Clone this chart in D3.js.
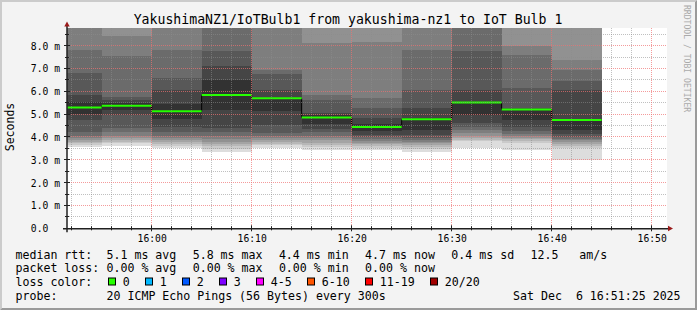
<!DOCTYPE html>
<html><head><meta charset="utf-8">
<script src="https://cdn.jsdelivr.net/npm/d3@7/dist/d3.min.js"></script>
<style>
html,body{margin:0;padding:0;background:#f3f3f3;}
svg{display:block;}
text{font-family:"DejaVu Sans Mono",monospace;}
</style></head><body>
<svg id="c" width="697" height="310"></svg>
<script>
// ---------------- data ----------------
const title = "YakushimaNZ1/IoTBulb1 from yakushima-nz1 to IoT Bulb 1";
const yAxisTitle = "Seconds";
const sideText = "RRDTOOL / TOBI OETIKER";
const windowStart = "2025-12-06T15:51:32Z";
const windowMinutes = 60;
const stepMinutes = 5;
const stepStarts = ["15:50","15:55","16:00","16:05","16:10","16:15","16:20","16:25","16:30","16:35","16:40"];
const medians = [5.29, 5.37, 5.12, 5.84, 5.69, 4.85, 4.44, 4.77, 5.51, 5.20, 4.74];
const lossPct = [0,0,0,0,0,0,0,0,0,0,0];
// 20 sorted ping rtts (ms) per 5-minute step
const pings = [
  [3.58,3.66,3.73,3.80,3.88,3.95,4.05,4.20,4.75,5.00,5.55,5.82,6.80,7.82,9.2,9.8,10.5,11.5,13.0,16.0],
  [3.62,3.73,3.80,3.87,3.95,4.05,4.20,4.40,4.98,5.18,5.48,5.60,5.77,7.53,8.43,9.0,9.6,10.4,11.5,14.0],
  [3.51,3.62,3.70,3.78,3.86,3.95,4.05,4.20,4.45,4.77,5.45,6.05,6.58,7.82,9.1,9.6,10.3,11.2,12.5,15.0],
  [3.32,3.48,3.60,3.70,3.80,3.90,4.05,4.23,4.40,5.20,6.50,7.09,7.75,9.0,9.5,10.2,11.0,12.0,13.5,16.0],
  [3.50,3.63,3.71,3.79,3.87,3.95,4.05,4.18,4.54,5.12,5.70,6.06,6.76,6.95,9.1,9.6,10.3,11.2,12.5,15.0],
  [3.43,3.55,3.65,3.75,3.85,3.95,4.05,4.20,4.35,4.55,4.95,5.06,5.63,5.85,8.10,9.0,9.7,10.5,12.0,15.0],
  [3.43,3.52,3.60,3.67,3.75,3.82,3.90,4.00,4.10,4.24,4.57,4.84,5.26,5.70,8.17,9.0,9.8,10.8,12.0,15.0],
  [3.36,3.47,3.56,3.64,3.72,3.78,3.85,3.95,4.10,4.30,4.82,5.26,6.07,7.82,9.0,9.6,10.3,11.2,12.5,15.0],
  [3.52,3.82,3.88,3.95,4.05,4.18,4.30,4.42,4.60,4.95,5.55,6.07,7.78,9.0,9.6,10.3,11.2,12.5,14.0,17.0],
  [3.45,3.74,3.82,3.90,3.97,4.05,4.15,4.25,4.42,4.75,5.20,5.28,6.14,7.60,7.96,9.0,9.7,10.5,12.0,15.0],
  [2.99,3.50,3.62,3.70,3.78,3.85,3.92,4.00,4.12,4.30,4.78,6.07,6.43,6.95,7.39,9.0,9.7,10.5,12.0,15.0]
];
const yMax = 8.77;
const yTicks = [0,1,2,3,4,5,6,7,8];
const yUnit = "m";
const xLabelTimes = ["16:00","16:10","16:20","16:30","16:40","16:50"];
const rttLabel = "median rtt:";
const rttItems = ["5.1 ms avg","5.8 ms max","4.4 ms min","4.7 ms now","0.4 ms sd","12.5   am/s"];
const lossLabel = "packet loss:";
const lossItems = ["0.00 % avg","0.00 % max","0.00 % min","0.00 % now"];
const colorLabel = "loss color:";
const lossLabels = ["0","1","2","3","4-5","6-10","11-19","20/20"];
const lossColors = ["#26ff00","#00b8ff","#0059ff","#7e00ff","#ff00ff","#ff5500","#ff0000","#a10000"];
const probeLabel = "probe:";
const probeText = "20 ICMP Echo Pings (56 Bytes) every 300s";
const dateText = "Sat Dec  6 16:51:25 2025";

// ---------------- layout ----------------
const W = 697, H = 310;
const L = 67, R = 667, T = 28, B = 228.3;
const svg = d3.select("#c");
const day = "2025-12-06T";
const toDate = s => new Date(day + s + ":00Z");
const t0 = new Date(windowStart);
const t1 = new Date(+t0 + windowMinutes * 60000);

const x = d3.scaleUtc().domain([t0, t1]).range([L, R]);
const y = d3.scaleLinear().domain([0, yMax]).range([B, T]);

// background + 3D frame
svg.append("rect").attr("width", W).attr("height", H).attr("fill", "#f3f3f3");
svg.append("polygon").attr("points", `0,0 ${W},0 ${W-2},2 2,2 2,${H-2} 0,${H}`).attr("fill", "#cbcbcb");
svg.append("polygon").attr("points", `${W},0 ${W},${H} 0,${H} 2,${H-2} ${W-2},${H-2} ${W-2},2`).attr("fill", "#9a9a9a");

// canvas
svg.append("rect").attr("x", L).attr("y", T).attr("width", R - L).attr("height", B - T).attr("fill", "#ffffff");
svg.append("clipPath").attr("id", "clip").append("rect")
  .attr("x", L).attr("y", T).attr("width", R - L).attr("height", B - T);

// smoke: nested bands, smokeping smokecol shading
const plot = svg.append("g").attr("clip-path", "url(#clip)");
const nP = 20, half = nP / 2;
const bandColor = ibot => { const c = Math.floor(190 / half * (half - ibot)) + 50; return d3.rgb(c, c, c).toString(); };
stepStarts.forEach((s, i) => {
  const ts = toDate(s), te = new Date(+ts + stepMinutes * 60000);
  const p = pings[i];
  for (let ibot = 1, itop = nP; itop > ibot; ibot++, itop--) {
    const lo = p[ibot - 1], hi = p[itop - 1];
    plot.append("rect")
      .attr("x", x(ts)).attr("width", x(te) - x(ts))
      .attr("y", y(hi)).attr("height", y(lo) - y(hi))
      .attr("fill", bandColor(ibot))
      .attr("shape-rendering", "crispEdges");
  }
});

// grid
const grid = svg.append("g");
const minorTimes = d3.utcMinute.every(2).range(t0, t1).filter(d => d.getUTCMinutes() % 10 !== 0);
const majorTimes = d3.utcMinute.every(10).range(t0, t1);
const px = v => Math.floor(v) + 0.5;
const minorVals = d3.range(0.5, yMax, 0.5).filter(v => v % 1 !== 0);
const majorVals = yTicks.filter(v => v > 0);
const gridMinor = { stroke: "#8c8c8c", op: 0.55 };
const gridMajor = { stroke: "#f07070", op: 0.7 };
function vline(t, st) {
  grid.append("line").attr("x1", px(x(t))).attr("x2", px(x(t))).attr("y1", T).attr("y2", B)
    .attr("stroke", st.stroke).attr("stroke-opacity", st.op).attr("stroke-dasharray", "1,1");
}
function hline(v, st) {
  grid.append("line").attr("x1", L).attr("x2", R).attr("y1", px(y(v))).attr("y2", px(y(v)))
    .attr("stroke", st.stroke).attr("stroke-opacity", st.op).attr("stroke-dasharray", "1,1");
}
minorTimes.forEach(t => vline(t, gridMinor));
minorVals.forEach(v => hline(v, gridMinor));
majorTimes.forEach(t => vline(t, gridMajor));
majorVals.forEach(v => hline(v, gridMajor));

// median: black step line + loss coloured segments
const stepPts = stepStarts.map((s, i) => [toDate(s), medians[i]]);
stepPts.push([new Date(+toDate(stepStarts[stepStarts.length - 1]) + stepMinutes * 60000), medians[medians.length - 1]]);
plot.append("path")
  .attr("d", d3.line().x(d => x(d[0])).y(d => y(d[1])).curve(d3.curveStepAfter)(stepPts))
  .attr("fill", "none").attr("stroke", "#000").attr("stroke-width", 1);
const lossIndex = l => l === 0 ? 0 : l <= 5 ? 1 : 2;
stepStarts.forEach((s, i) => {
  const ts = toDate(s), te = new Date(+ts + stepMinutes * 60000);
  plot.append("line")
    .attr("x1", x(ts)).attr("x2", x(te))
    .attr("y1", y(medians[i])).attr("y2", y(medians[i]))
    .attr("stroke", lossColors[lossIndex(lossPct[i])]).attr("stroke-width", 2);
});

// axes (labels via d3 axes)
const xAxis = svg.append("g").attr("transform", `translate(0,${B})`)
  .call(d3.axisBottom(x).tickValues(xLabelTimes.map(toDate)).tickFormat(d3.utcFormat("%H:%M")).tickSize(0).tickPadding(6.8));
xAxis.select(".domain").remove();
xAxis.selectAll("text").attr("font-family", "DejaVu Sans Mono").attr("font-size", "9.7px").attr("fill", "#000");
xAxis.attr("font-family", null).attr("font-size", null);

const yFmt = v => v === 0 ? d3.format(".1f")(v) + "  " : d3.format(".1f")(v) + " " + yUnit;
const yAxis = svg.append("g").attr("transform", `translate(${L},0)`)
  .call(d3.axisLeft(y).tickValues(yTicks).tickFormat(yFmt).tickSize(0).tickPadding(7));
yAxis.select(".domain").remove();
yAxis.selectAll("text").attr("font-family", "DejaVu Sans Mono").attr("font-size", "9.7px").attr("fill", "#000")
  .attr("xml:space", "preserve").style("white-space", "pre").attr("dy", "0.36em");

// axis lines, ticks, arrows
const ax = svg.append("g").attr("stroke", "#202020");
minorTimes.forEach(t => ax.append("line").attr("x1", px(x(t))).attr("x2", px(x(t))).attr("y1", B - 2).attr("y2", B + 2));
majorTimes.forEach(t => ax.append("line").attr("x1", px(x(t))).attr("x2", px(x(t))).attr("y1", B - 3).attr("y2", B + 3));
minorVals.forEach(v => ax.append("line").attr("x1", L - 2).attr("x2", L + 2).attr("y1", px(y(v))).attr("y2", px(y(v))));
majorVals.forEach(v => ax.append("line").attr("x1", L - 3).attr("x2", L + 3).attr("y1", px(y(v))).attr("y2", px(y(v))));
ax.append("line").attr("x1", L - 4).attr("x2", R + 2).attr("y1", B + 0.45).attr("y2", B + 0.45).attr("stroke-width", 1.5);
ax.append("line").attr("x1", L).attr("x2", L).attr("y1", B + 4).attr("y2", T - 2).attr("stroke-width", 1.5);
svg.append("polygon").attr("points", `${R+1},${B-2.5} ${R+1},${B+3} ${R+6},${B+0.3}`).attr("fill", "#9a1a1a");
svg.append("polygon").attr("points", `${L-2.7},${T-1.5} ${L+2.7},${T-1.5} ${L},${T-6.5}`).attr("fill", "#9a1a1a");

// titles
svg.append("text").attr("x", 348).attr("y", 24).attr("text-anchor", "middle")
  .attr("font-size", "13.2px").attr("fill", "#000").text(title);
svg.append("text").attr("transform", "translate(13.5,127) rotate(-90)").attr("text-anchor", "middle")
  .attr("font-size", "11.5px").attr("fill", "#000").text(yAxisTitle);
svg.append("text").attr("transform", "translate(683.5,5) rotate(90)").attr("text-anchor", "start")
  .attr("font-size", "8.1px").attr("fill", "#aaaaaa").text(sideText);

// legend
const cw = 7.0;
const leg = svg.append("g").attr("font-size", "11.6px").attr("fill", "#000");
const rowY = [258.5, 272.2, 286, 299.8];
const colX = 106.5, labX = 15.5, gap = 16.2;
function putText(xx, yy, s, anchor) {
  return leg.append("text").attr("x", xx).attr("y", yy).attr("xml:space", "preserve")
    .style("white-space", "pre").attr("text-anchor", anchor || "start").text(s);
}
function row(items, yy) {
  let xx = colX;
  items.forEach(s => { putText(xx, yy, s); xx += s.length * cw + gap; });
}
putText(labX, rowY[0], rttLabel); row(rttItems, rowY[0]);
putText(labX, rowY[1], lossLabel); row(lossItems, rowY[1]);
putText(labX, rowY[2], colorLabel);
let bx = 108.5;
lossLabels.forEach((s, i) => {
  leg.append("rect").attr("x", bx).attr("y", rowY[2] - 8).attr("width", 7).attr("height", 7)
    .attr("fill", lossColors[i]).attr("stroke", "#000").attr("stroke-width", 1);
  putText(bx + 14.3, rowY[2], s);
  bx += 30 + s.length * cw;
});
putText(labX, rowY[3], probeLabel);
putText(colX, rowY[3], probeText);
putText(680.6, rowY[3], dateText, "end");
</script>
</body></html>
